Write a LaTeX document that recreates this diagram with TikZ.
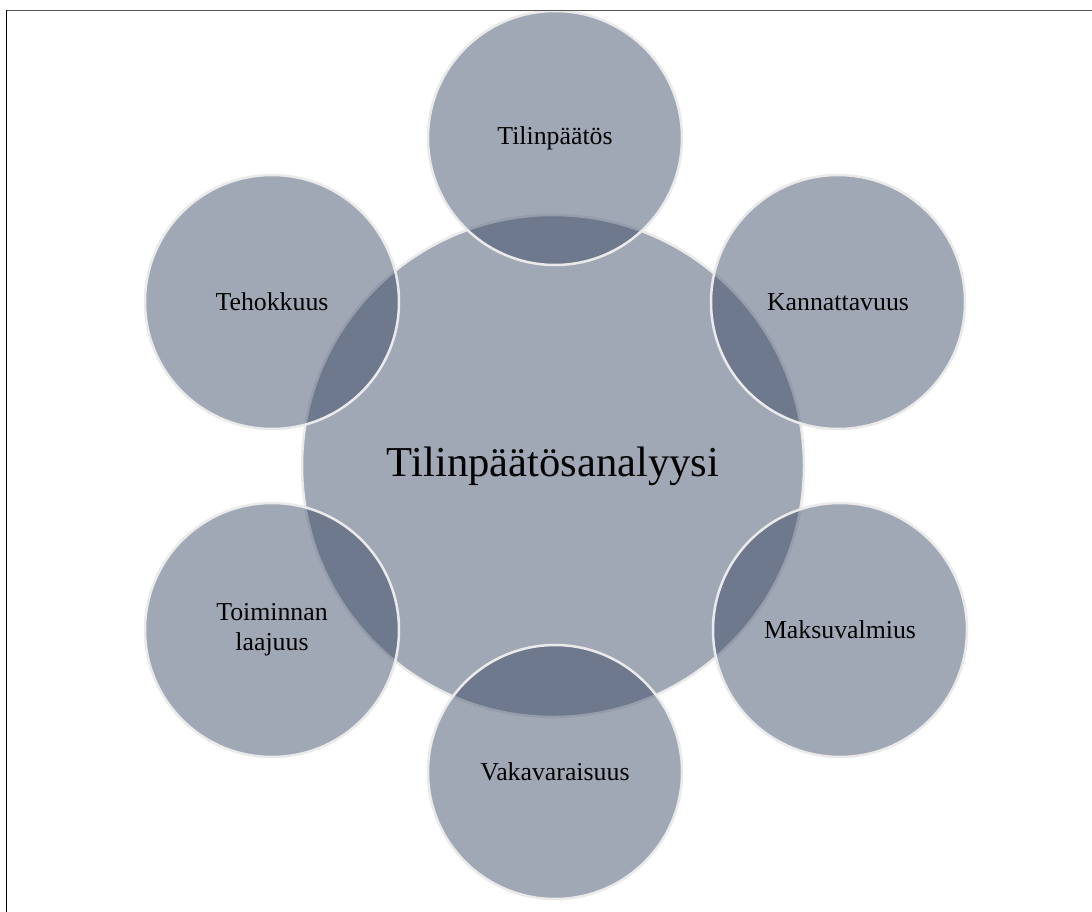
\documentclass[tikz,border=0pt]{standalone}
\usepackage{fontspec}
\setmainfont{Liberation Serif}
\definecolor{slate}{RGB}{49,65,95}
\definecolor{rim}{RGB}{234,234,234}
\definecolor{topline}{RGB}{85,85,85}
\begin{document}
\begin{tikzpicture}[x=1pt,y=-1pt,
  bubble/.style={circle,fill=slate,fill opacity=0.46,draw=rim,draw opacity=1,line width=2.5pt,text opacity=1,inner sep=0pt,align=center},
  small/.style={bubble,minimum size=254pt,font=\fontsize{25.8}{30}\selectfont},
  big/.style={bubble,minimum size=502pt,font=\fontsize{42.6}{50}\selectfont}]
\useasboundingbox (0,0) rectangle (1092,912);
\begin{scope}
\clip (0,0) rectangle (1092,912);
\node[big] (c) at (553,466) {Tilinpäätösanalyysi};
\node[small] (n1) at (555,138) {Tilinpäätös};
\node[small] (n2) at (838,302) {Kannattavuus};
\node[small] (n3) at (840,630) {Maksuvalmius};
\node[small] (n4) at (555,772) {Vakavaraisuus};
\node[small] (n5) at (272,630) {Toiminnan\\laajuus};
\node[small] (n6) at (272,302) {Tehokkuus};
\end{scope}
\coordinate (tl) at (6.5,10.5);
\coordinate (tr) at (1092,10.5);
\coordinate (bl) at (6.5,912);
\draw[topline,line width=1pt] (tl) -- (tr);
\draw[black,line width=1.4pt] (tl) -- (bl);
\end{tikzpicture}
\end{document}
